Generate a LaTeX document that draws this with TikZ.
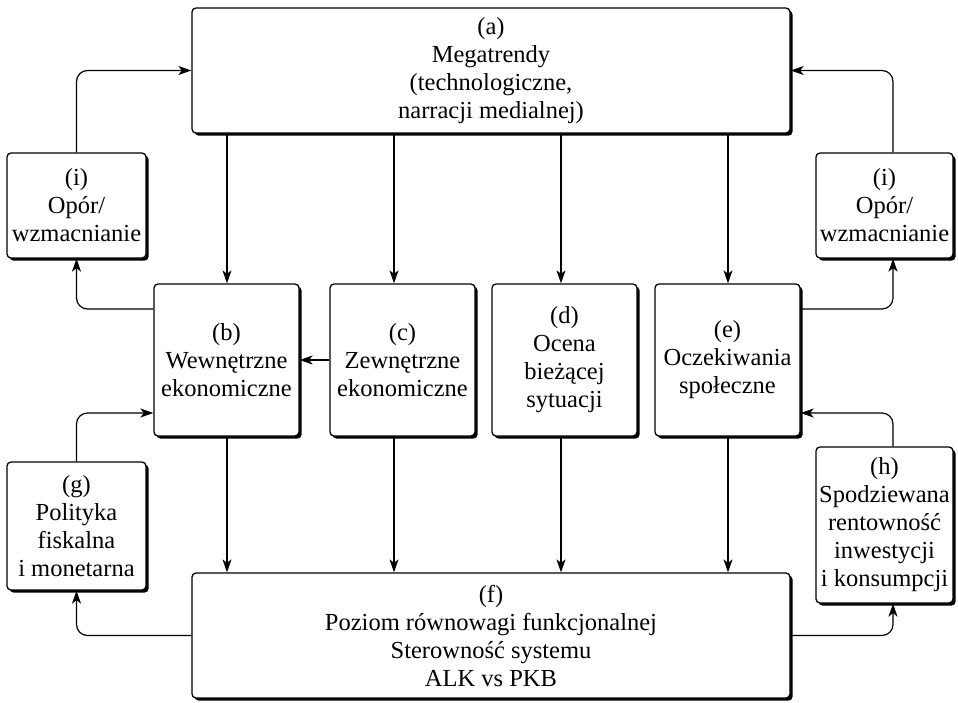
\documentclass[tikz,border=0pt]{standalone}
\usepackage{fontspec}
\setmainfont{Liberation Serif}
\usetikzlibrary{arrows.meta,shadows}
\begin{document}
\begin{tikzpicture}[x=1pt,y=-1pt,
 box/.style={draw=black, line width=1.3pt, rounded corners=4pt, fill=white, align=center, inner sep=0pt,
   font=\fontsize{24.5}{28}\selectfont,
   drop shadow={shadow xshift=2.6pt, shadow yshift=-2.6pt, fill=black, opacity=1}},
 conn/.style={line width=1.2pt, -{Stealth[length=13pt,width=9pt,inset=3.5pt]}, rounded corners=11pt}
]
\useasboundingbox (0,0) rectangle (958,702);
\coordinate (x1) at (227,0);
\coordinate (x2) at (394,0);
\coordinate (x3) at (561,0);
\coordinate (x4) at (728,0);
\coordinate (rx) at (893,0);
\coordinate (y309) at (0,309);
\coordinate (y413) at (0,413);

\node[box, minimum width=598pt, minimum height=125pt] (a) at (491,70.5) {\raisebox{3pt}{\parbox{400pt}{\centering (a)\\Megatrendy\\(technologiczne,\\narracji medialnej)}}};
\node[box, minimum width=139pt, minimum height=105pt] (iL) at (76.5,205.5) {(i)\\Opór/\\wzmacnianie};
\node[box, minimum width=137pt, minimum height=105pt] (iR) at (884.5,205.5) {(i)\\Opór/\\wzmacnianie};
\node[box, minimum width=145pt, minimum height=152pt] (b) at (226.5,360) {(b)\\Wewnętrzne\\ekonomiczne};
\node[box, minimum width=145pt, minimum height=152pt] (c) at (402.5,360) {(c)\\Zewnętrzne\\ekonomiczne};
\node[box, minimum width=145pt, minimum height=152pt] (d) at (564.5,360) {(d)\\Ocena\\bieżącej\\sytuacji};
\node[box, minimum width=145pt, minimum height=152pt] (e) at (727.5,360) {(e)\\Oczekiwania\\społeczne};
\node[box, minimum width=139pt, minimum height=128pt] (g) at (76.5,526) {(g)\\Polityka\\fiskalna\\i monetarna};
\node[box, minimum width=137pt, minimum height=156pt] (h) at (884.5,525) {(h)\\Spodziewana\\rentowność\\inwestycji\\i konsumpcji};
\node[box, minimum width=598pt, minimum height=125pt] (f) at (491,635.5) {(f)\\Poziom równowagi funkcjonalnej\\Sterowność systemu\\ALK vs PKB};

\foreach \k/\n in {x1/b, x2/c, x3/d, x4/e}{
  \draw[conn] (a.south -| \k) -- (\n.north -| \k);
  \draw[conn] (\n.south -| \k) -- (f.north -| \k);
}
\draw[conn] (c.west) -- (b.east);
\draw[conn] (iL.north) |- (a.west);
\draw[conn] (iR.north -| rx) |- (a.east);
\draw[conn] (b.west |- y309) -| (iL.south);
\draw[conn] (e.east |- y309) -| (iR.south -| rx);
\draw[conn] (g.north) |- (b.west |- y413);
\draw[conn] (h.north -| rx) |- (e.east |- y413);
\draw[conn] (f.west) -| (g.south);
\draw[conn] (f.east) -| (h.south -| rx);
\end{tikzpicture}
\end{document}
